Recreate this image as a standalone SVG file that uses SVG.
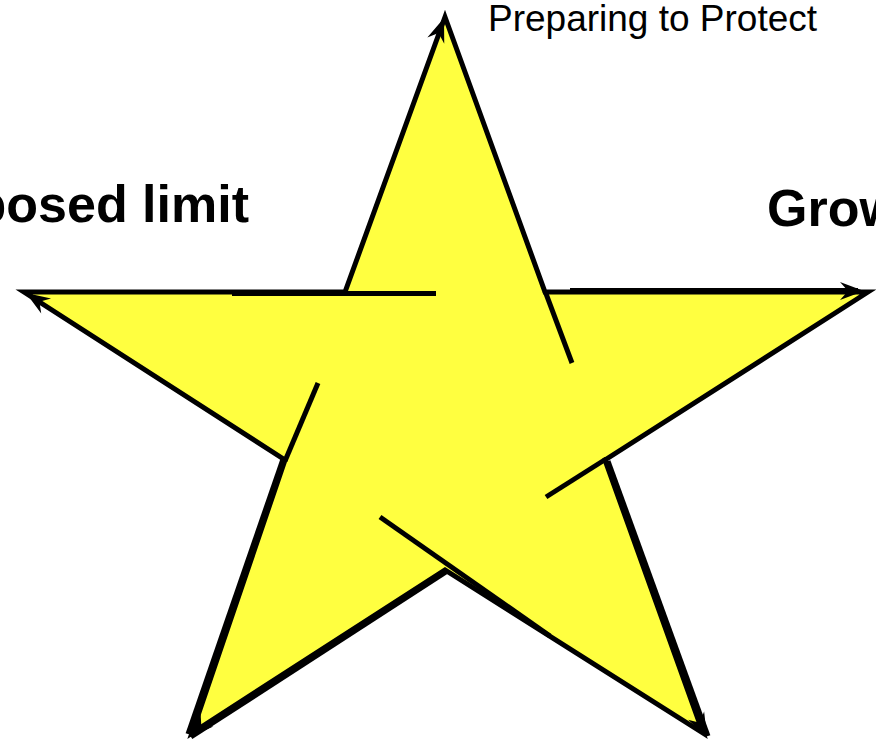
<svg xmlns="http://www.w3.org/2000/svg" xmlns:xlink="http://www.w3.org/1999/xlink" width="876" height="744" viewBox="0 0 876 744">
  <style>
    .star { fill: #ffff40; stroke: #000; stroke-width: 5; stroke-linejoin: miter; }
    .conn { stroke: #000; stroke-width: 5; fill: none; stroke-linecap: butt; }
    .head { fill: #000; }
    .lbl { font-family: "Liberation Sans", Arial, sans-serif; fill: #000; }
    .big { font-size: 52px; font-weight: bold; }
    .small { font-size: 37px; }
  </style>
  <defs>
    <path id="ah" class="head" d="M0,0 L-24,-9 L-16,0 L-24,9 Z"/>
  </defs>

  <g id="star">
    <polygon class="star" points="445,17 545,292 868,292 605,460 703,733 445,570 192,733 285,460 24,292 345,292"/>
  </g>

  <g id="connectors">
    <line class="conn" x1="232" y1="293.5" x2="436" y2="293.5"/>
    <line class="conn" x1="572" y1="363" x2="545" y2="291"/>
    <line class="conn" x1="546" y1="497" x2="606" y2="459"/>
    <line class="conn" x1="380" y1="517" x2="550" y2="636"/>
    <line class="conn" x1="318" y1="383" x2="285" y2="461"/>
    <line class="conn" x1="608" y1="461" x2="708" y2="736"/>
    <line class="conn" x1="446" y1="572" x2="191" y2="737"/>
    <line class="conn" x1="283" y1="459" x2="188" y2="734"/>
    <line class="conn" x1="570" y1="290.5" x2="858" y2="290.5"/>
    <use xlink:href="#ah" transform="translate(444,18) rotate(-70)"/>
    <use xlink:href="#ah" transform="translate(864,291) rotate(0)"/>
    <use xlink:href="#ah" transform="translate(26,293) rotate(-147)"/>
    <use xlink:href="#ah" transform="translate(190,737) rotate(135)"/>
    <use xlink:href="#ah" transform="translate(707,737) rotate(63)"/>
  </g>

  <g id="labels">
    <text class="lbl small" x="488" y="31">Preparing to Protect</text>
    <text class="lbl big" x="249" y="222" text-anchor="end">Imposed limit</text>
    <text class="lbl big" x="767" y="226">Growth</text>
  </g>
</svg>
